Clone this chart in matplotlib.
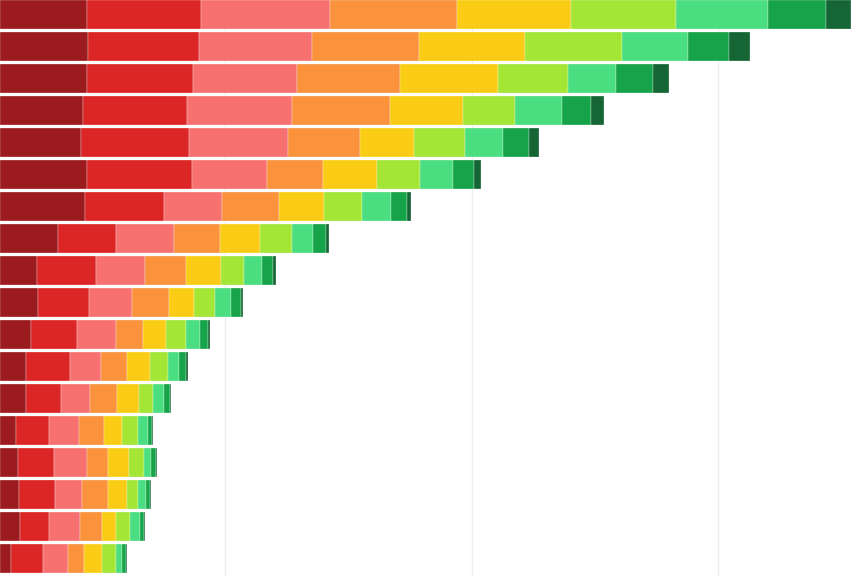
import matplotlib.pyplot as plt
import numpy as np

# segment widths per bar (pixel-like units, xlim 0..864)
ends = [
    [87, 201, 330, 457, 571, 676, 768, 826, 851],
    [88, 199, 312, 419, 525, 622, 688, 729, 750],
    [87, 193, 297, 400, 498, 568, 616, 653, 669],
    [83, 187, 292, 390, 463, 515, 562, 591, 604],
    [81, 189, 288, 360, 414, 465, 503, 529, 539],
    [87, 192, 267, 323, 377, 420, 453, 474, 481],
    [85, 164, 222, 279, 324, 362, 391, 407, 411],
    [58, 116, 174, 220, 260, 292, 313, 326, 329],
    [37, 96, 145, 186, 221, 244, 262, 273, 276],
    [38, 89, 132, 169, 194, 215, 231, 241, 243],
    [31, 77, 116, 143, 166, 186, 200, 208, 210],
    [26, 70, 101, 127, 150, 168, 179, 186, 188],
    [26, 61, 90, 117, 139, 153, 164, 170, 171],
    [16, 49, 79, 104, 122, 138, 148, 152, 153],
    [18, 54, 87, 108, 129, 144, 151, 156, 157],
    [19, 55, 82, 108, 127, 138, 146, 150, 151],
    [20, 49, 80, 102, 116, 130, 140, 144, 145],
    [11, 43, 68, 84, 102, 116, 122, 126, 127],
]
colors = ["#9b1b1f", "#dc2626", "#f87171", "#fb923c", "#facc15",
          "#a3e635", "#4ade80", "#16a34a", "#166534"]
grid_x = [225, 472, 718]

ends = np.array(ends, dtype=float)
widths = np.diff(np.hstack([np.zeros((len(ends), 1)), ends]), axis=1)
rows = np.arange(len(ends))

fig = plt.figure(figsize=(8.64, 5.76), dpi=100)
ax = fig.add_axes([0, 0, 1, 1])
left = np.zeros(len(ends))
for k in range(widths.shape[1]):
    ax.barh(rows, widths[:, k], left=left, height=0.9, color=colors[k],
            edgecolor="white", linewidth=0.2)
    left += widths[:, k]

ax.set_xlim(0, 864)
ax.set_ylim(17.55, -0.45)
ax.set_xticks(grid_x)
ax.set_yticks([])
ax.grid(axis="x", color="#eeeeee", linewidth=1)
ax.set_axisbelow(True)
ax.tick_params(length=0, labelbottom=False)
for s in ax.spines.values():
    s.set_visible(False)

fig.savefig("out.png", dpi=100)
